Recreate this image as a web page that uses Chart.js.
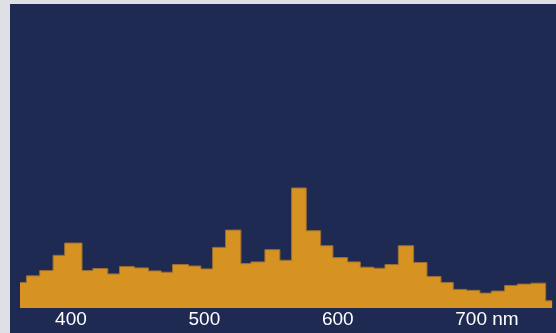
<!DOCTYPE html>
<html>
<head>
<meta charset="utf-8">
<script src="https://cdn.jsdelivr.net/npm/chart.js@4/dist/chart.umd.min.js"></script>
<style>
    body { margin: 0; background: #dfe0e6; }
    #wrap { position: absolute; left: 10px; top: 4px; width: 546px; height: 329px; background: #1f2a53; }
</style>
</head>
<body>
<div id="wrap"><canvas id="spectrum" width="546" height="329"></canvas></div>
<script>
// left edge of each bin (nm), last entry is the right edge of the final bin
const binEdges = [361.8, 366.6, 376.6, 386.6, 395.3, 408.3, 416.4, 427.6, 436.4, 447.6,
    458.1, 467.6, 476.1, 488.1, 497.4, 506.2, 515.9, 527.4, 534.9, 545.4,
    556.6, 565.4, 576.4, 587.2, 596.4, 607.4, 616.9, 627.1, 635.4, 645.4,
    656.9, 666.9, 677.4, 686.6, 696.7, 706.6, 715.1, 725.1, 734.6, 744.9,
    755.9, 761.0];
// relative intensity per bin
const intensity = [0.213, 0.268, 0.312, 0.439, 0.541, 0.312, 0.329, 0.284, 0.345, 0.334,
    0.309, 0.298, 0.362, 0.350, 0.326, 0.505, 0.649, 0.370, 0.384, 0.486,
    0.398, 1.000, 0.644, 0.519, 0.420, 0.384, 0.340, 0.331, 0.362, 0.519,
    0.379, 0.263, 0.213, 0.155, 0.147, 0.124, 0.141, 0.188, 0.199, 0.207,
    0.060];
const tickValues = [400, 500, 600, 700];
const unitLabel = 'nm';

document.addEventListener('DOMContentLoaded', function () {
    // each point carries the value of the bin that ends at it
    const points = binEdges.map((x, i) => ({ x: x, y: intensity[Math.max(i - 1, 0)] }));
    const tickFont = { family: '"Liberation Sans", Arial, sans-serif', size: 19, lineHeight: 1 };
    const tickPad = 2;

    // draws the unit after the last tick label
    const unitPlugin = {
        id: 'unit',
        afterDraw(chart) {
            const sc = chart.scales.x;
            const last = tickValues[tickValues.length - 1];
            const c = chart.ctx;
            c.save();
            c.font = tickFont.size + 'px ' + tickFont.family;
            c.fillStyle = '#ffffff';
            c.textBaseline = 'middle';
            const w = c.measureText(String(last)).width;
            const y = sc.top + tickPad + tickFont.size / 2;
            c.fillText(' ' + unitLabel, sc.getPixelForValue(last) + w / 2, y);
            c.restore();
        }
    };

    new Chart(document.getElementById('spectrum'), {
        type: 'line',
        data: {
            datasets: [{
                data: points,
                stepped: 'after',
                fill: 'origin',
                backgroundColor: '#d79322',
                borderColor: '#9c6e33',
                borderWidth: 1,
                pointRadius: 0
            }]
        },
        options: {
            responsive: false,
            animation: false,
            layout: { padding: { left: 10, right: 3.5, top: 4, bottom: 2 } },
            plugins: { legend: { display: false }, tooltip: { enabled: false } },
            scales: {
                x: {
                    type: 'linear',
                    min: binEdges[0],
                    max: binEdges[binEdges.length - 1],
                    grid: { display: false, drawTicks: false, tickLength: 0 },
                    border: { display: false },
                    afterBuildTicks: axis => { axis.ticks = tickValues.map(v => ({ value: v })); },
                    ticks: { color: '#ffffff', font: tickFont, padding: tickPad, maxRotation: 0 }
                },
                y: {
                    display: false,
                    min: 0,
                    max: 2.5
                }
            }
        },
        plugins: [unitPlugin]
    });
});
</script>
</body>
</html>
